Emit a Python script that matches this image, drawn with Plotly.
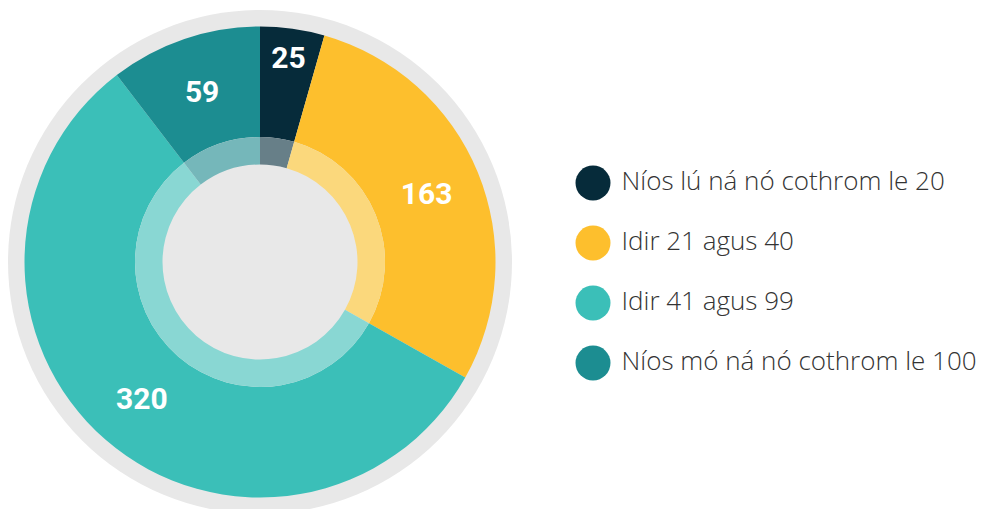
import plotly.graph_objects as go

categories = ["Níos lú ná nó cothrom le 20", "Idir 21 agus 40", "Idir 41 agus 99", "Níos mó ná nó cothrom le 100"]
values = [25, 163, 320, 59]
colors = ["#062b3a", "#fdbf2d", "#3bbfb8", "#1c8d91"]
light_colors = ["#677f88", "#fbd87c", "#89d7d3", "#75b7ba"]

W, H = 981, 509
cx, cy = 260, 262


def dom(r):
    return dict(x=[(cx - r) / W, (cx + r) / W], y=[1 - (cy + r) / H, 1 - (cy - r) / H])


fig = go.Figure()

R_out, R_mid, R_in = 235.5, 125, 97.5

fig.add_trace(go.Pie(
    values=values, labels=categories, sort=False, direction="clockwise", rotation=0,
    hole=R_mid / R_out, domain=dom(R_out),
    marker=dict(colors=colors, line=dict(width=0)),
    textinfo="value", textposition="inside", insidetextorientation="horizontal",
    textfont=dict(color="white", size=30, family="Roboto", weight="bold"),
    showlegend=False, hoverinfo="skip",
))
fig.add_trace(go.Pie(
    values=values, labels=categories, sort=False, direction="clockwise", rotation=0,
    hole=R_in / R_mid, domain=dom(R_mid),
    marker=dict(colors=light_colors, line=dict(width=0)),
    textinfo="none", showlegend=False, hoverinfo="skip",
))

# legend drawn as scatter: coloured dots
fig.add_trace(go.Scatter(
    x=[0] * len(categories), y=categories, mode="markers",
    marker=dict(size=35, color=colors, line=dict(width=0)),
    showlegend=False, hoverinfo="skip", cliponaxis=False,
))
# legend labels (transparent larger markers set the text gap)
fig.add_trace(go.Scatter(
    x=[0] * len(categories), y=categories, mode="markers+text",
    marker=dict(size=44, color="rgba(0,0,0,0)", line=dict(width=0)),
    text=categories, textposition="middle right",
    textfont=dict(size=26, color="#333333", family="Open Sans", weight=300),
    showlegend=False, hoverinfo="skip", cliponaxis=False,
))

R_bg = 252
fig.add_shape(type="circle", xref="paper", yref="paper",
              x0=(cx - R_bg) / W, x1=(cx + R_bg) / W,
              y0=1 - (cy + R_bg) / H, y1=1 - (cy - R_bg) / H,
              fillcolor="#e8e8e8", line=dict(width=0), layer="below")

fig.update_layout(
    width=W, height=H, margin=dict(l=0, r=0, t=0, b=0),
    paper_bgcolor="white", plot_bgcolor="rgba(0,0,0,0)",
    xaxis=dict(domain=[569 / W, 1], range=[-24 / 412, 1 - 24 / 412], visible=False, fixedrange=True),
    yaxis=dict(domain=[1 - 393 / H, 1 - 153 / H], range=[3.5, -0.5], visible=False,
               type="category", fixedrange=True),
)

fig.write_html("out.html", config={"displayModeBar": False},
               post_script="document.body.style.margin='0';document.body.style.overflow='hidden';")
